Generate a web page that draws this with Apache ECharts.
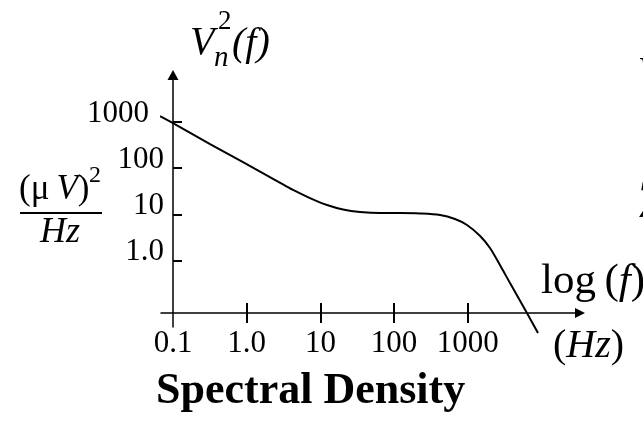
<!DOCTYPE html>
<html><head><meta charset="utf-8">
<script src="https://cdn.jsdelivr.net/npm/echarts@6/dist/echarts.min.js"></script>
<style>html,body{margin:0;padding:0;background:#fff}#c{width:643px;height:422px}</style>
</head><body><div id="c"></div>
<script>
// Spectral density curve (Hz, (uV)^2/Hz)
const freqHz = [0.0667, 0.1, 0.318, 0.891, 2.58, 4.25, 7.22, 12.3, 20.3, 34.4, 64.4, 120, 224, 420, 670, 975, 1470, 2000, 2730, 3740, 6350, 8970];
const psd    = [1361, 960, 336, 136, 52.8, 33.7, 22.5, 15.9, 12.7, 11.2, 10.6, 10.6, 10.4, 9.64, 7.89, 5.85, 3.37, 1.85, 0.791, 0.321, 0.0716, 0.0263];
const xTickValues = [1, 10, 100, 1000];
const xLabelValues = [0.1, 1, 10, 100, 1000];
const xLabelText = ['0.1', '1.0', '10', '100', '1000'];
const yTickValues = [1, 10, 100, 1000];
const yLabelText = ['1.0', '10', '100', '1000'];

const FONT = '"Liberation Serif", "DejaVu Serif", serif';
const X_MIN = 0.0687, X_MAX = 33300, Y_MIN = 0.0356, Y_MAX = 10600;

function xFmt(v) {
  const i = xLabelValues.findIndex(t => Math.abs(Math.log10(t) - Math.log10(v)) < 1e-6);
  return i < 0 ? '' : xLabelText[i];
}
function yFmt(v) {
  const i = yTickValues.findIndex(t => Math.abs(Math.log10(t) - Math.log10(v)) < 1e-6);
  if (i < 0) return '';
  return (v > 500 ? '{b|' : '{a|') + yLabelText[i] + '}';
}

const chart = echarts.init(document.getElementById('c'));
chart.setOption({
  animation: false,
  backgroundColor: '#fff',
  textStyle: { fontFamily: FONT, color: '#000' },
  grid: { left: 161, right: 63, top: 75, bottom: 95, containLabel: false },
  xAxis: [{
    type: 'log', logBase: 10, min: X_MIN, max: X_MAX, position: 'bottom', offset: -14,
    axisLine: { show: true, onZero: false, symbol: ['none', 'triangle'], symbolSize: [10, 10],
      lineStyle: { color: '#000', width: 1.5 } },
    axisTick: { show: true, inside: true, length: 10, customValues: xTickValues,
      lineStyle: { color: '#000', width: 2 } },
    minorTick: { show: false },
    axisLabel: { show: true, customValues: xLabelValues, formatter: xFmt, margin: 15,
      fontSize: 31, fontFamily: FONT, color: '#000' },
    splitLine: { show: false }
  }, {
    type: 'log', logBase: 10, min: X_MIN, max: X_MAX, position: 'bottom', offset: -14,
    axisLine: { show: false, onZero: false },
    axisTick: { show: true, inside: false, length: 10, customValues: xTickValues,
      lineStyle: { color: '#000', width: 2 } },
    axisLabel: { show: false },
    splitLine: { show: false }
  }],
  yAxis: {
    type: 'log', logBase: 10, min: Y_MIN, max: Y_MAX, position: 'left', offset: -12,
    axisLine: { show: true, onZero: false, symbol: ['none', 'triangle'], symbolSize: [11, 10],
      lineStyle: { color: '#000', width: 1.5 } },
    axisTick: { show: true, inside: true, length: 9, customValues: yTickValues,
      lineStyle: { color: '#000', width: 2 } },
    minorTick: { show: false },
    axisLabel: { show: true, customValues: yTickValues, formatter: yFmt, margin: 9,
      fontSize: 31, fontFamily: FONT, color: '#000',
      rich: {
        a: { fontSize: 31, fontFamily: FONT, color: '#000', padding: [0, 0, 16, 0] },
        b: { fontSize: 31, fontFamily: FONT, color: '#000', padding: [0, 15, 16, 0] }
      } },
    splitLine: { show: false }
  },
  series: [{
    type: 'line', xAxisIndex: 0, yAxisIndex: 0,
    data: freqHz.map((f, i) => [f, psd[i]]),
    showSymbol: false, smooth: 0.3, clip: false,
    lineStyle: { color: '#000', width: 2 }
  }],
  graphic: [
    { type: 'text', x: 190, y: 43, style: { text: 'V', fontSize: 40, fontStyle: 'italic', fontFamily: FONT, fill: '#000', verticalAlign: 'middle' } },
    { type: 'text', x: 218, y: 22, style: { text: '2', fontSize: 27, fontFamily: FONT, fill: '#000', verticalAlign: 'middle' } },
    { type: 'text', x: 214, y: 58, style: { text: 'n', fontSize: 29, fontStyle: 'italic', fontFamily: FONT, fill: '#000', verticalAlign: 'middle' } },
    { type: 'text', x: 232, y: 44, style: { text: '(f)', fontSize: 40, fontStyle: 'italic', fontFamily: FONT, fill: '#000', verticalAlign: 'middle' } },
    { type: 'text', x: 19, y: 190, style: {
        text: '{p|(μ\u2009}{i|V}{p|)}', fontSize: 35, fontFamily: FONT, fill: '#000', verticalAlign: 'middle',
        rich: { p: { fontSize: 35, fontFamily: FONT, fill: '#000' }, i: { fontSize: 35, fontFamily: FONT, fontStyle: 'italic', fill: '#000' } } } },
    { type: 'text', x: 89, y: 176, style: { text: '2', fontSize: 24, fontFamily: FONT, fill: '#000', verticalAlign: 'middle' } },
    { type: 'line', shape: { x1: 20, y1: 213, x2: 102, y2: 213 }, style: { stroke: '#000', lineWidth: 2 } },
    { type: 'text', x: 60, y: 233, style: { text: 'Hz', fontSize: 36, fontStyle: 'italic', fontFamily: FONT, fill: '#000', align: 'center', verticalAlign: 'middle' } },
    { type: 'text', x: 541, y: 282, style: {
        text: '{p|log\u2009(}{i|f}{p|)}', fontSize: 43, fontFamily: FONT, fill: '#000', verticalAlign: 'middle',
        rich: { p: { fontSize: 43, fontFamily: FONT, fill: '#000' }, i: { fontSize: 43, fontFamily: FONT, fontStyle: 'italic', fill: '#000' } } } },
    { type: 'text', x: 553, y: 346, style: {
        text: '{p|(}{i|Hz}{p|)}', fontSize: 40, fontFamily: FONT, fill: '#000', verticalAlign: 'middle',
        rich: { p: { fontSize: 40, fontFamily: FONT, fill: '#000' }, i: { fontSize: 40, fontFamily: FONT, fontStyle: 'italic', fill: '#000' } } } },
    { type: 'text', x: 156, y: 392, style: { text: 'Spectral Density', fontSize: 44, fontWeight: 'bold', fontFamily: FONT, fill: '#000', verticalAlign: 'middle' } },
    { type: 'text', x: 638, y: 73, style: { text: 'V', fontSize: 38, fontStyle: 'italic', fontFamily: FONT, fill: '#000', verticalAlign: 'middle' } },
    { type: 'text', x: 636, y: 203, style: { text: '7', fontSize: 52, fontStyle: 'italic', fontFamily: FONT, fill: '#000', verticalAlign: 'middle' } }
  ]
});
</script></body></html>
